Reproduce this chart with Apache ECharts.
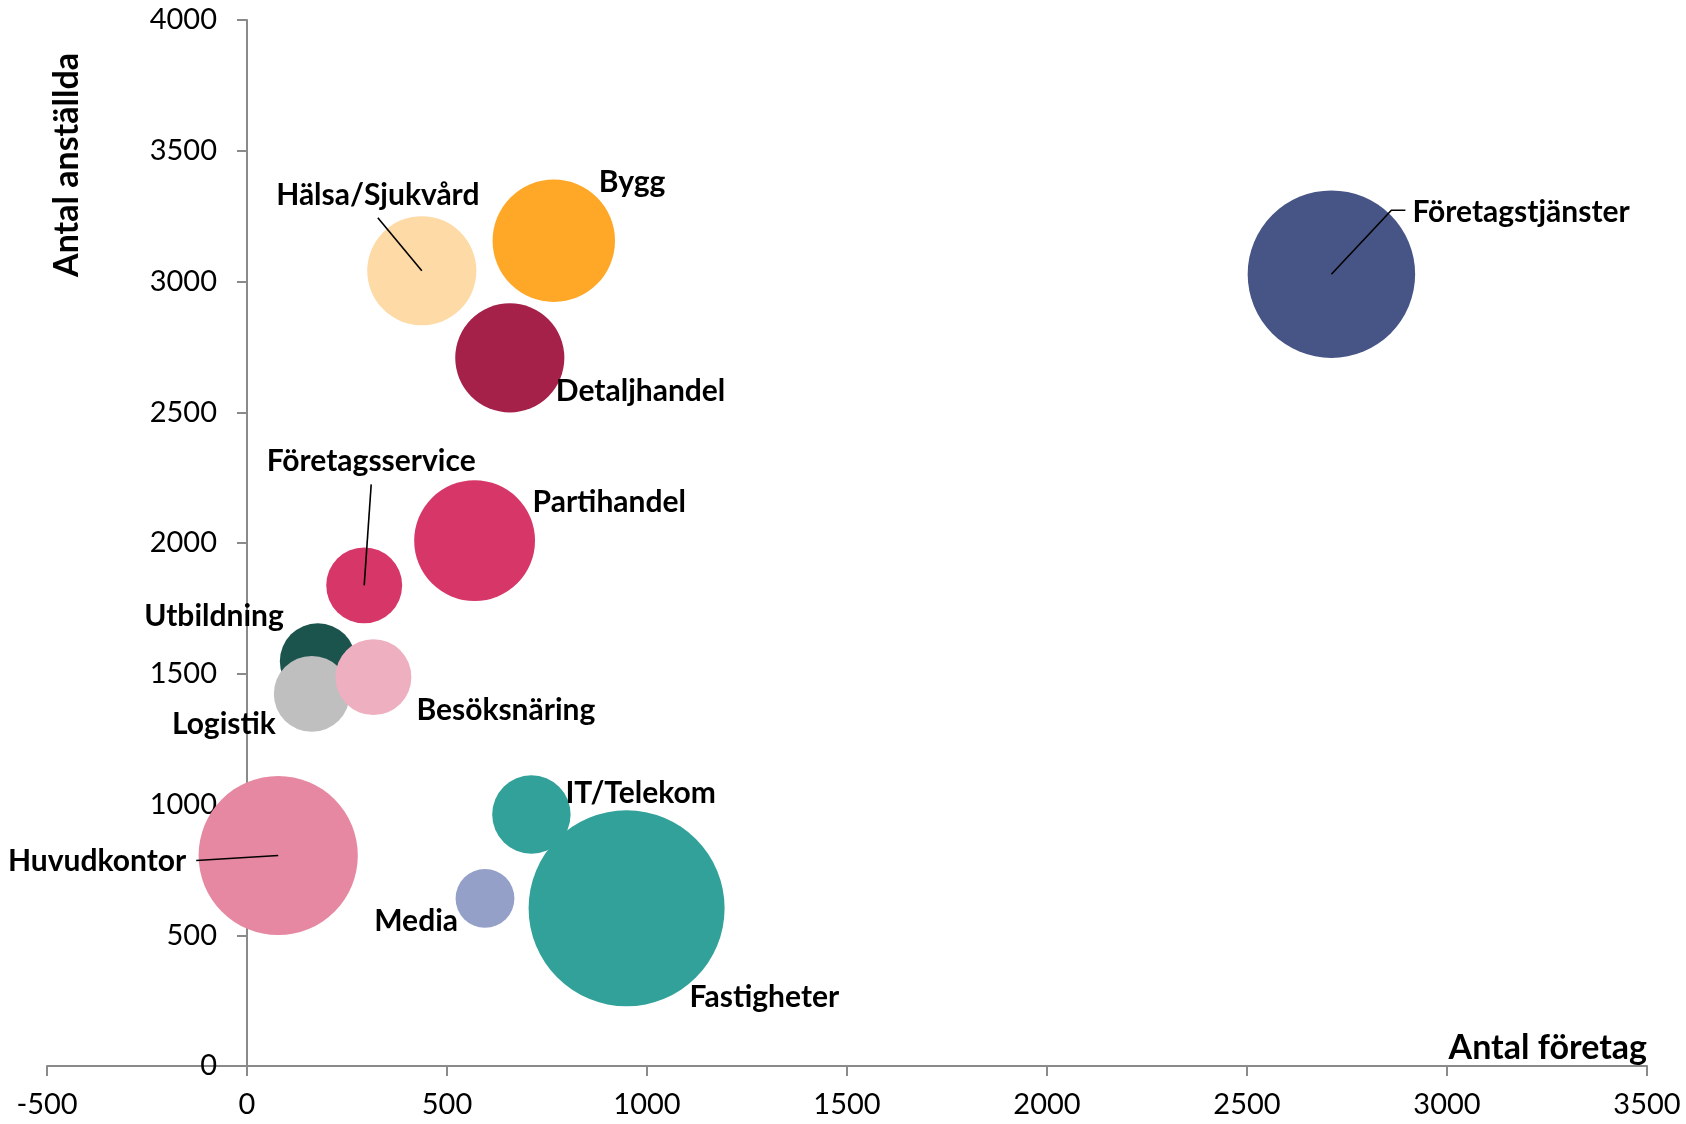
<!DOCTYPE html>
<html>
<head>
<meta charset="utf-8">
<title>Antal företag och anställda per bransch</title>
<script src="https://cdn.jsdelivr.net/npm/echarts@6.0.0/dist/echarts.min.js"></script>
<style>
  html, body { margin: 0; padding: 0; background: #fff; }
  #bubbles { width: 1686px; height: 1124px; }
</style>
</head>
<body>
<div id="bubbles"></div>
<script>
// data
var branscher = ['Företagstjänster', 'Hälsa/Sjukvård', 'Bygg', 'Detaljhandel', 'Partihandel',
  'Företagsservice', 'Utbildning', 'Logistik', 'Besöksnäring', 'Huvudkontor',
  'IT/Telekom', 'Media', 'Fastigheter'];
var antalForetag = [2711, 437, 767, 657, 569, 293, 177, 162, 316, 78, 711, 595, 949];
var antalAnstallda = [3028, 3041, 3156, 2708, 2009, 1838, 1548, 1423, 1487, 805, 962, 641, 603];
var bubbelStorlek = [73, 31, 39, 31, 38, 15, 15, 15, 15, 66, 16, 9, 100];
var xTicks = [-500, 3500, 500];   // min, max, step
var yTicks = [0, 4000, 500];

// styling, kept apart from the values
var farger = {
  'Företagstjänster': '#465486', 'Hälsa/Sjukvård': '#FDDAA6', 'Bygg': '#FFA726',
  'Detaljhandel': '#A5214A', 'Partihandel': '#D63768', 'Företagsservice': '#D63768',
  'Utbildning': '#1B534D', 'Logistik': '#BFBFBF', 'Besöksnäring': '#EEAFC0',
  'Huvudkontor': '#E688A2', 'IT/Telekom': '#32A19A', 'Media': '#94A0C8',
  'Fastigheter': '#32A19A'
};
// label offset from bubble centre in px
var etiketter = {
  'Företagstjänster': { align: 'left', dx: 81, dy: -62 },
  'Hälsa/Sjukvård': { align: 'center', dx: -44, dy: -75 },
  'Bygg': { align: 'left', dx: 45, dy: -58 },
  'Detaljhandel': { align: 'left', dx: 46, dy: 33 },
  'Partihandel': { align: 'left', dx: 58, dy: -38 },
  'Företagsservice': { align: 'center', dx: 7, dy: -124 },
  'Utbildning': { align: 'right', dx: -34, dy: -45 },
  'Logistik': { align: 'right', dx: -36, dy: 30 },
  'Besöksnäring': { align: 'left', dx: 43, dy: 33 },
  'Huvudkontor': { align: 'right', dx: -92, dy: 6 },
  'IT/Telekom': { align: 'left', dx: 34, dy: -21 },
  'Media': { align: 'right', dx: -27, dy: 23 },
  'Fastigheter': { align: 'left', dx: 63, dy: 89 }
};
var ledare = {
  'Företagstjänster': [[60, -64], [74, -64]],
  'Hälsa/Sjukvård': [[-44, -53]],
  'Företagsservice': [[7, -101]],
  'Huvudkontor': [[-82, 5]]
};

var fontFamily = 'Lato, "Open Sans", sans-serif';
var axisColor = '#8a8a8a';
var plotWidth = 1686 - 47 - 39;

var bubbelData = branscher.map(function (namn, i) {
  var e = etiketter[namn];
  return {
    name: namn,
    value: [antalForetag[i], antalAnstallda[i], bubbelStorlek[i]],
    itemStyle: { color: farger[namn], opacity: 1 },
    label: { position: 'inside', offset: [e.dx, e.dy], align: e.align, verticalAlign: 'middle' }
  };
});

var ledarData = [];
branscher.forEach(function (namn, i) {
  if (ledare[namn]) ledarData.push({ name: namn, value: [antalForetag[i], antalAnstallda[i]] });
});

function plain(v) { return String(v); }

var chart = echarts.init(document.getElementById('bubbles'));

chart.setOption({
  animation: false,
  grid: { left: 47, right: 39, top: 20, bottom: 58, containLabel: false, outerBoundsMode: 'none' },
  xAxis: {
    type: 'value',
    min: xTicks[0], max: xTicks[1], interval: xTicks[2],
    name: 'Antal företag',
    nameLocation: 'end',
    nameGap: 0,
    nameTextStyle: {
      fontFamily: fontFamily, fontWeight: 'bold', fontSize: 34, color: '#000',
      align: 'right', verticalAlign: 'bottom', padding: [0, 0, 1, 0]
    },
    axisLine: { lineStyle: { color: axisColor, width: 2 } },
    axisTick: { length: 10, lineStyle: { color: axisColor, width: 2 } },
    axisLabel: { margin: 24, fontFamily: fontFamily, fontSize: 29, color: '#000', formatter: plain },
    splitLine: { show: false }
  },
  yAxis: {
    type: 'value',
    min: yTicks[0], max: yTicks[1], interval: yTicks[2],
    // sits where x = 0
    offset: -plotWidth * (0 - xTicks[0]) / (xTicks[1] - xTicks[0]),
    axisLine: { show: true, onZero: false, lineStyle: { color: axisColor, width: 2 } },
    axisTick: { show: true, length: 10, lineStyle: { color: axisColor, width: 2 } },
    axisLabel: { margin: 30, fontFamily: fontFamily, fontSize: 29, color: '#000', formatter: plain },
    splitLine: { show: false }
  },
  graphic: [{
    type: 'text',
    x: 67, y: 165,
    rotation: Math.PI / 2,
    style: {
      text: 'Antal anställda',
      fontFamily: fontFamily, fontWeight: 'bold', fontSize: 34, fill: '#000',
      align: 'center', verticalAlign: 'middle'
    }
  }],
  series: [
    {
      type: 'scatter',
      data: bubbelData,
      symbolSize: function (val) { return Math.sqrt(val[2]) * 19.6; },
      label: {
        show: true,
        formatter: '{b}',
        fontFamily: fontFamily, fontWeight: 'bold', fontSize: 30, color: '#000'
      },
      emphasis: { disabled: true },
      z: 2
    },
    {
      type: 'custom',
      data: ledarData,
      z: 3,
      silent: true,
      renderItem: function (params, api) {
        var namn = ledarData[params.dataIndex].name;
        var c = api.coord([api.value(0), api.value(1)]);
        var pts = [c].concat(ledare[namn].map(function (p) { return [c[0] + p[0], c[1] + p[1]]; }));
        return {
          type: 'polyline',
          shape: { points: pts },
          style: { stroke: '#000', lineWidth: 1.6, fill: null }
        };
      }
    }
  ]
});
</script>
</body>
</html>
